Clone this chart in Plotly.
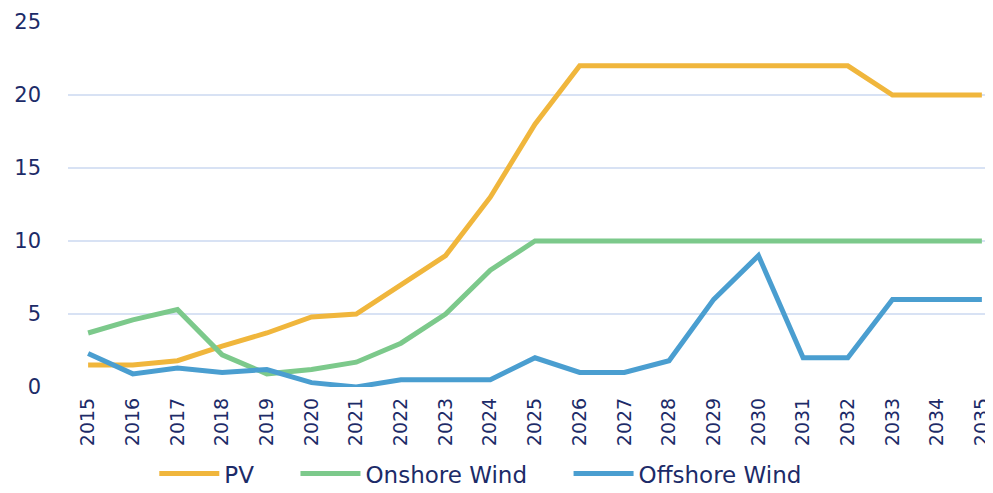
import plotly.graph_objects as go

years = list(range(2015, 2036))
pv = [1.5, 1.5, 1.8, 2.8, 3.7, 4.8, 5.0, 7.0, 9.0, 13.0, 18.0,
      22, 22, 22, 22, 22, 22, 22, 20, 20, 20]
onshore = [3.7, 4.6, 5.3, 2.2, 0.9, 1.2, 1.7, 3.0, 5.0, 8.0, 10,
           10, 10, 10, 10, 10, 10, 10, 10, 10, 10]
offshore = [2.3, 0.9, 1.3, 1.0, 1.2, 0.3, 0.0, 0.5, 0.5, 0.5, 2.0,
            1.0, 1.0, 1.8, 6.0, 9.0, 2.0, 2.0, 6.0, 6.0, 6.0]
names = ["PV", "Onshore Wind", "Offshore Wind"]
colors = ["#f0b63c", "#7cc98b", "#4a9ed0"]

text_col = "#1c2b68"
pad = "\u00a0" * 5
fig = go.Figure()
for i, (name, vals, col) in enumerate(zip(names, [pv, onshore, offshore], colors)):
    label = name + (pad if i < len(names) - 1 else "")
    fig.add_trace(go.Scatter(x=years, y=vals, name=label, mode="lines",
                             line=dict(color=col, width=5)))

# page body adds an 8px offset, so the figure is a bit smaller than the window
fig.update_layout(
    width=985, height=485,
    margin=dict(l=60, r=8, t=14, b=106, autoexpand=False),
    plot_bgcolor="white", paper_bgcolor="white",
    font=dict(family="DejaVu Sans, sans-serif", size=19, color=text_col),
    legend=dict(orientation="h", xref="container", x=0.48, xanchor="center",
                yref="container", y=0.04, yanchor="middle",
                font=dict(size=23), itemwidth=60, bgcolor="rgba(0,0,0,0)"),
    showlegend=True,
)
fig.update_xaxes(range=[2014.55, 2035.07], tickmode="array", tickvals=years,
                 ticktext=[str(y) for y in years], tickangle=-90,
                 showgrid=False, zeroline=False, showline=False, ticks="",
                 automargin=False, ticklabelstandoff=6)
fig.update_yaxes(range=[0, 25], tickvals=[0, 5, 10, 15, 20, 25],
                 gridcolor="#d8e2f4", gridwidth=1.5, zeroline=False,
                 showline=False, ticks="", ticklabelstandoff=26,
                 automargin=False, tickfont=dict(size=21))
fig.write_html("out.html")
